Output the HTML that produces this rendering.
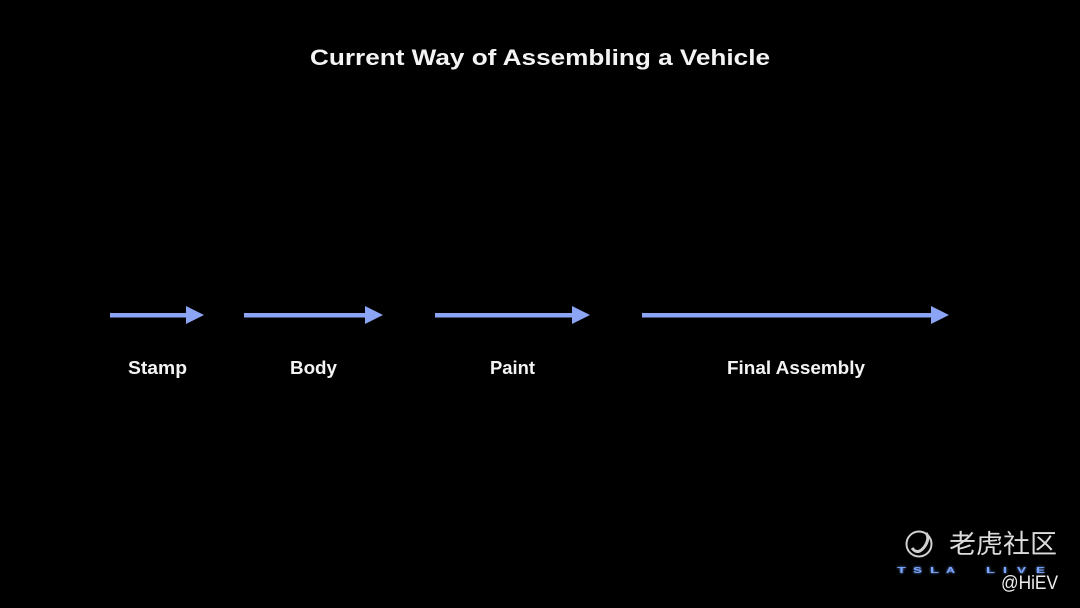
<!DOCTYPE html>
<html>
<head>
<meta charset="utf-8">
<style>
html,body{margin:0;padding:0;background:#000;}
body{width:1080px;height:608px;overflow:hidden;}
svg{display:block;}
</style>
</head>
<body>
<svg width="1080" height="608" viewBox="0 0 1080 608" xmlns="http://www.w3.org/2000/svg">
  <defs>
    <filter id="glow" x="-20%" y="-100%" width="140%" height="300%">
      <feGaussianBlur stdDeviation="1.2" result="b"/>
      <feMerge><feMergeNode in="b"/><feMergeNode in="SourceGraphic"/></feMerge>
    </filter>
  </defs>
  <rect width="1080" height="608" fill="#000"/>

  <!-- Title -->
  <text x="310" y="65" font-family="Liberation Sans, sans-serif" font-size="22" font-weight="bold" fill="#f4f4f4" textLength="460" lengthAdjust="spacingAndGlyphs">Current Way of Assembling a Vehicle</text>

  <!-- Arrows -->
  <g fill="#8ca4f4">
    <rect x="110" y="313" width="78" height="4.5"/>
    <polygon points="186,306 204,315 186,324"/>

    <rect x="244" y="313" width="123" height="4.5"/>
    <polygon points="365,306 383,315 365,324"/>

    <rect x="435" y="313" width="139" height="4.5"/>
    <polygon points="572,306 590,315 572,324"/>

    <rect x="642" y="313" width="291" height="4.5"/>
    <polygon points="931,306 949,315 931,324"/>
  </g>

  <!-- Labels -->
  <g font-family="Liberation Sans, sans-serif" font-size="18" font-weight="bold" fill="#f4f4f4">
    <text x="128" y="374" textLength="59" lengthAdjust="spacingAndGlyphs">Stamp</text>
    <text x="290" y="374" textLength="47" lengthAdjust="spacingAndGlyphs">Body</text>
    <text x="490" y="374" textLength="45" lengthAdjust="spacingAndGlyphs">Paint</text>
    <text x="727" y="374" textLength="138" lengthAdjust="spacingAndGlyphs">Final Assembly</text>
  </g>

  <!-- Watermark -->
  <g>
    <circle cx="919" cy="544" r="12.5" fill="none" stroke="#d0d0d0" stroke-width="2"/>
    <path d="M912 548 Q918 556 925 546 Q930 538 926 533" fill="none" stroke="#d0d0d0" stroke-width="3"/>
    <text x="949" y="553" font-family="Liberation Sans, Noto Sans CJK SC, sans-serif" font-size="26" fill="#dcdcdc" textLength="108" lengthAdjust="spacingAndGlyphs">老虎社区</text>
    <g font-family="Liberation Sans, sans-serif" font-size="8" font-weight="bold" fill="#7aa6ff" filter="url(#glow)">
      <text x="897" y="573" textLength="9" lengthAdjust="spacingAndGlyphs">T</text>
      <text x="913" y="573" textLength="9" lengthAdjust="spacingAndGlyphs">S</text>
      <text x="930" y="573" textLength="9" lengthAdjust="spacingAndGlyphs">L</text>
      <text x="946" y="573" textLength="9" lengthAdjust="spacingAndGlyphs">A</text>
      <text x="986" y="573" textLength="9" lengthAdjust="spacingAndGlyphs">L</text>
      <text x="1003" y="573" textLength="4" lengthAdjust="spacingAndGlyphs">I</text>
      <text x="1017" y="573" textLength="9" lengthAdjust="spacingAndGlyphs">V</text>
      <text x="1036" y="573" textLength="9" lengthAdjust="spacingAndGlyphs">E</text>
    </g>
    <text x="1001" y="589" font-family="Liberation Sans, sans-serif" font-size="19" fill="#eeeeee" textLength="57" lengthAdjust="spacingAndGlyphs">@HiEV</text>
  </g>
</svg>
</body>
</html>
